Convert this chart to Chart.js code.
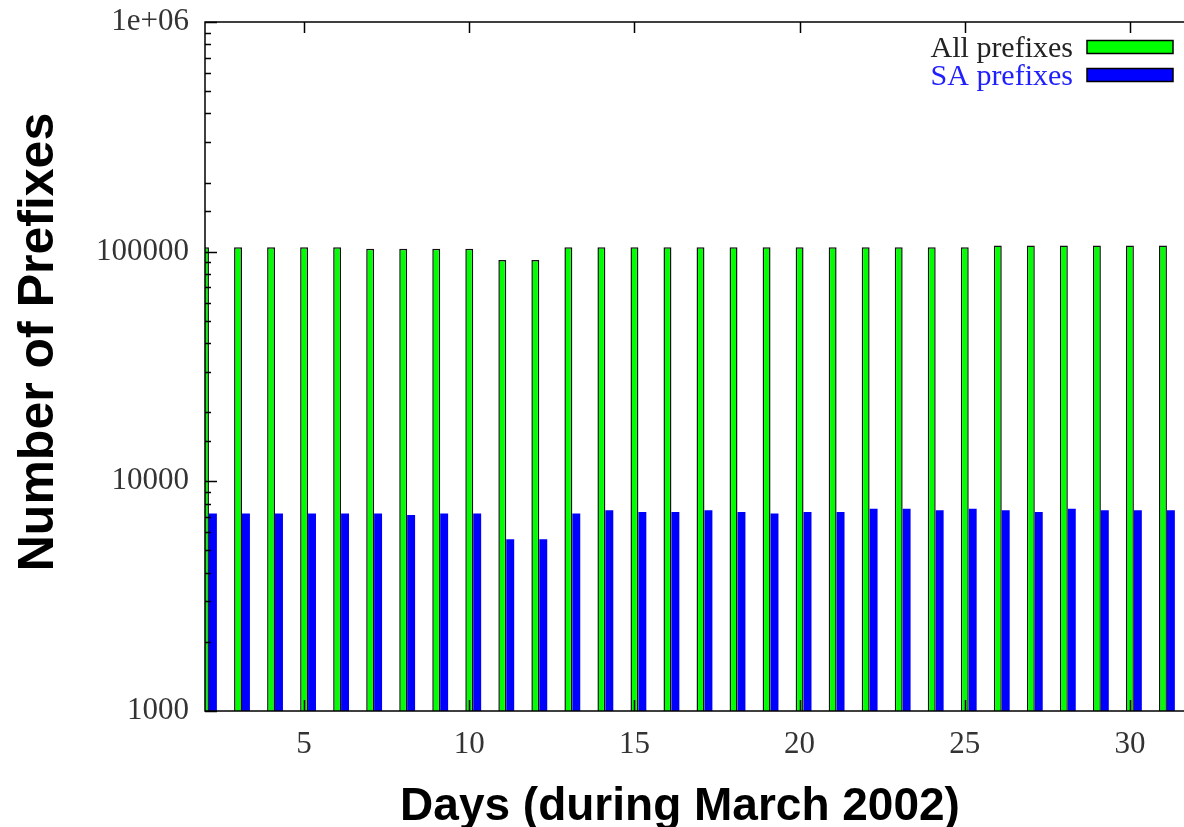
<!DOCTYPE html>
<html>
<head>
<meta charset="utf-8">
<title>Number of Prefixes - March 2002</title>
<script src="https://cdn.jsdelivr.net/npm/chart.js@4.4.1/dist/chart.umd.min.js"></script>
<style>
  html, body { margin: 0; padding: 0; background: #fff; overflow: hidden; }
  #chart { display: block; }
</style>
</head>
<body>
<canvas id="chart" width="1200" height="827"></canvas>
<script>
// Daily prefix counts during March 2002
const days = [2, 3, 4, 5, 6, 7, 8, 9, 10, 11, 12, 13, 14, 15, 16,
  17, 18, 19, 20, 21, 22, 23, 24, 25, 26, 27, 28, 29, 30, 31];
const allPrefixes = [104500, 104500, 104500, 104500, 104500, 103000, 103000, 103000, 103000, 92000,
  92000, 104500, 104500, 104500, 104500, 104500, 104500, 104500, 104500, 104500,
  104500, 104500, 104500, 104500, 106500, 106500, 106500, 106500, 106500, 106500];
const saPrefixes = [7250, 7250, 7250, 7250, 7250, 7250, 7130, 7250, 7250, 5590,
  5590, 7250, 7480, 7350, 7350, 7480, 7350, 7250, 7350, 7350,
  7600, 7600, 7480, 7600, 7480, 7350, 7600, 7480, 7480, 7480];

// Series and tick labels
const seriesLabels = ["All prefixes", "SA prefixes"];
const xTickValues = [5, 10, 15, 20, 25, 30];
const yTickValues = [1000, 10000, 100000, 1000000];
const yTickLabels = ["1000", "10000", "100000", "1e+06"];

// Styling
const seriesColors = ["#00ff00", "#0000ff"];
const legendTextColors = ["#222222", "#2020ff"];
const tickFont = { family: "'Liberation Serif', 'Times New Roman', serif", size: 31 };
const dayRange = [2, 32];
const barGroup = 0.48;          // share of one day taken by the two bars
const barShift = barGroup / 4;  // keeps the green bar centred on its day

// Draws the gnuplot style frame, inward ticks, key and axis titles
const gnuplotFrame = {
  id: "gnuplotFrame",
  afterDatasetsDraw(chart) {
    const { ctx, chartArea: a, scales } = chart;
    ctx.save();

    // border + ticks
    ctx.strokeStyle = "#000";
    ctx.lineWidth = 1.5;
    ctx.strokeRect(a.left, a.top, a.right - a.left, a.bottom - a.top);
    ctx.beginPath();
    scales.y.ticks.forEach((t) => {
      const py = Math.round(scales.y.getPixelForValue(t.value)) + 0.5;
      const len = yTickValues.includes(t.value) ? 12 : 6;
      ctx.moveTo(a.left, py);
      ctx.lineTo(a.left + len, py);
      ctx.moveTo(a.right, py);
      ctx.lineTo(a.right - len, py);
    });
    scales.x.ticks.forEach((t) => {
      const px = Math.round(scales.x.getPixelForValue(t.value)) + 0.5;
      ctx.moveTo(px, a.top);
      ctx.lineTo(px, a.top + 11);
      ctx.moveTo(px, a.bottom);
      ctx.lineTo(px, a.bottom - 11);
    });
    ctx.stroke();

    // key, top right inside the plot
    const boxW = 86, boxH = 13;
    const boxRight = a.right - 23;
    ctx.font = "30px 'Liberation Serif', serif";
    ctx.textAlign = "right";
    ctx.textBaseline = "alphabetic";
    chart.data.datasets.forEach((ds, i) => {
      const cy = a.top + 25 + i * 28;
      ctx.fillStyle = ds.backgroundColor;
      ctx.fillRect(boxRight - boxW, cy - boxH / 2, boxW, boxH);
      ctx.lineWidth = 1.5;
      ctx.strokeStyle = "#000";
      ctx.strokeRect(boxRight - boxW, cy - boxH / 2, boxW, boxH);
      ctx.fillStyle = legendTextColors[i];
      ctx.fillText(ds.label, boxRight - boxW - 14, cy + 10);
    });

    // axis titles
    ctx.fillStyle = "#000";
    ctx.textAlign = "center";
    ctx.font = "bold 46px 'Liberation Sans', Arial, sans-serif";
    ctx.fillText("Days (during March 2002)", 680, 820);
    ctx.save();
    ctx.translate(53, 342);
    ctx.rotate(-Math.PI / 2);
    ctx.font = "bold 50px 'Liberation Sans', Arial, sans-serif";
    ctx.fillText("Number of Prefixes", 0, 0);
    ctx.restore();

    ctx.restore();
  },
};

const ctx = document.getElementById("chart").getContext("2d");
const prefixChart = new Chart(ctx, {
  type: "bar",
  data: {
    datasets: [
      {
        label: seriesLabels[0],
        data: days.map((d, i) => ({ x: d, y: allPrefixes[i] })),
        backgroundColor: seriesColors[0],
        borderColor: "#111",
        borderWidth: 1.5,
        xAxisID: "xBars",
      },
      {
        label: seriesLabels[1],
        data: days.map((d, i) => ({ x: d, y: saPrefixes[i] })),
        backgroundColor: seriesColors[1],
        borderWidth: 0,
        xAxisID: "xBars",
      },
    ],
  },
  options: {
    responsive: false,
    animation: false,
    devicePixelRatio: 1,
    layout: { padding: { top: 22, right: 4, bottom: 0, left: 0 } },
    datasets: {
      bar: { categoryPercentage: barGroup, barPercentage: 1, clip: 0 },
    },
    plugins: {
      legend: { display: false },
      tooltip: { enabled: false },
    },
    scales: {
      x: {
        type: "linear",
        position: "bottom",
        offset: false,
        min: dayRange[0],
        max: dayRange[1],
        afterBuildTicks: (scale) => {
          scale.ticks = xTickValues.map((v) => ({ value: v }));
        },
        afterFit: (scale) => {
          scale.height = 116;
          scale.paddingLeft = 0;
          scale.paddingRight = 0;
        },
        grid: { display: false, drawTicks: false, offset: false },
        border: { display: false },
        ticks: { font: tickFont, color: "#333", padding: 15, maxRotation: 0, autoSkip: false },
      },
      xBars: {
        type: "linear",
        axis: "x",
        display: false,
        offset: false,
        grid: { offset: false },
        min: dayRange[0] - barShift,
        max: dayRange[1] - barShift,
      },
      y: {
        type: "logarithmic",
        min: yTickValues[0],
        max: yTickValues[yTickValues.length - 1],
        afterFit: (scale) => {
          scale.width = 205;
          scale.paddingTop = 0;
          scale.paddingBottom = 0;
        },
        grid: { display: false, drawTicks: false },
        border: { display: false },
        ticks: {
          font: tickFont,
          color: "#333",
          padding: 16,
          autoSkip: false,
          callback: (value) => {
            const k = yTickValues.indexOf(value);
            return k >= 0 ? yTickLabels[k] : "";
          },
        },
      },
    },
  },
  plugins: [gnuplotFrame],
});
</script>
</body>
</html>
